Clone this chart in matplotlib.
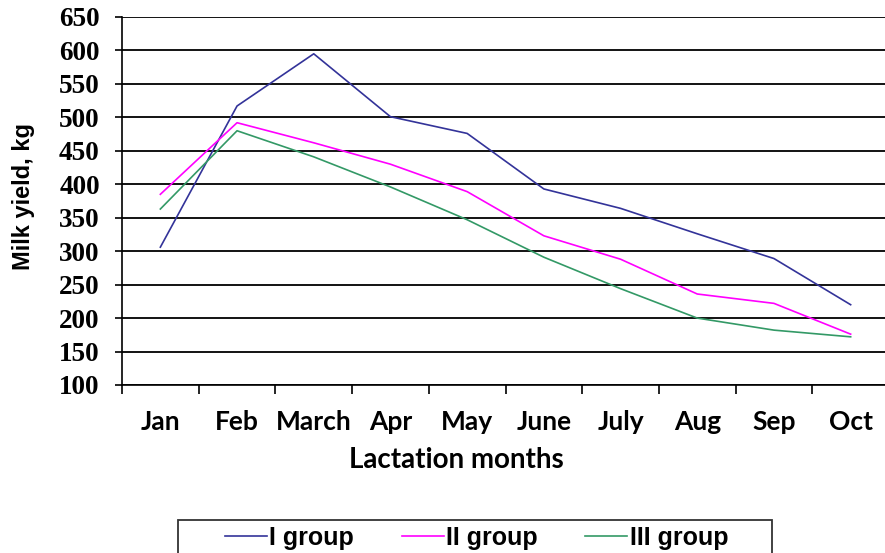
import numpy as np
import matplotlib.pyplot as plt
from matplotlib.patches import Rectangle

months = ["Jan", "Feb", "March", "Apr", "May", "June", "July", "Aug", "Sep", "Oct"]
group_1 = [306, 517, 595, 501, 476, 393, 364, 326, 289, 220]
group_2 = [385, 492, 462, 430, 389, 323, 288, 236, 222, 176]
group_3 = [363, 480, 441, 396, 347, 291, 244, 200, 182, 172]
y_ticks = list(range(100, 651, 50))
labels = ["I group", "II group", "III group"]
colors = ["#333399", "#ff00ff", "#339966"]

W, H = 885, 553
fig = plt.figure(figsize=(W / 100, H / 100), dpi=100)
ax = fig.add_axes([122 / W, 168 / H, 767 / W, 368 / H])

x = np.arange(len(months))
for ys, lab, c in zip([group_1, group_2, group_3], labels, colors):
    ax.plot(x + 0.5, ys, color=c, lw=1.2, label=lab)

ax.set_xlim(0, len(months))
ax.set_ylim(100, 650)
ax.set_yticks(y_ticks)
ax.set_yticklabels([str(v) for v in y_ticks], fontfamily="Liberation Serif",
                   fontweight="bold", fontsize=19.5)
ax.set_xticks(np.arange(len(months) + 1))
ax.set_xticklabels([])
ax.set_xticks(x + 0.5, minor=True)
ax.set_xticklabels(months, minor=True, fontfamily="Lato", fontweight="bold", fontsize=19)
ax.tick_params(axis="x", which="minor", length=0, pad=18)
ax.tick_params(axis="x", which="major", length=6.5, width=1.2, direction="out")
ax.tick_params(axis="y", length=5, width=1.2, pad=11)

ax.grid(axis="y", color="black", lw=1.3)
ax.set_axisbelow(True)
for s in ["top", "right"]:
    ax.spines[s].set_visible(False)
ax.spines["left"].set_linewidth(1.2)
ax.spines["bottom"].set_linewidth(1.2)

ax.text((456 - 122) / 767, (385 - 460) / 368, "Lactation months", transform=ax.transAxes,
        ha="center", va="center", fontfamily="Lato", fontweight="bold", fontsize=20)
ax.text((24 - 122) / 767, (385 - 197) / 368, "Milk yield, kg", transform=ax.transAxes,
        ha="center", va="center", rotation=90, fontfamily="Liberation Sans",
        fontweight="bold", fontsize=17)

fig.patches.append(Rectangle((178 / W, -0.01), (772 - 178) / W, 0.01 + (H - 520) / H,
                             transform=fig.transFigure, fill=False, edgecolor="#333333", lw=1.3))
fig.legend(loc="center", bbox_to_anchor=(476.5 / W, 1 - 538 / H), ncol=3, frameon=False,
           prop={"family": "Liberation Sans", "weight": "bold", "size": 18},
           handlelength=1.68, handletextpad=0.1, columnspacing=1.9, borderpad=0)

fig.savefig("out.png", dpi=100)
